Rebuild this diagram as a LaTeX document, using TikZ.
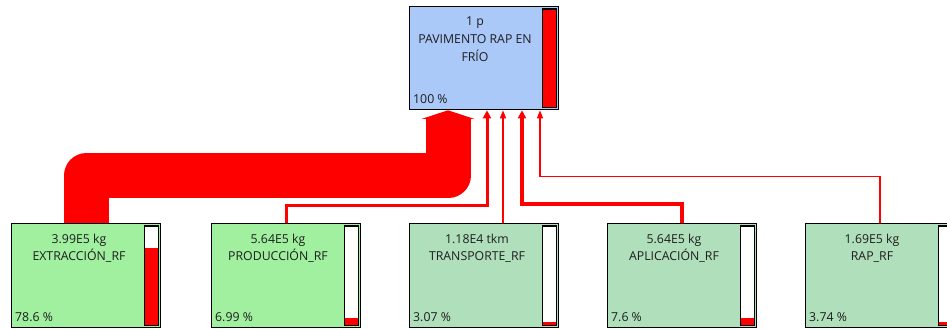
\documentclass[tikz,border=0pt]{standalone}
\usepackage{fontspec}
\setmainfont{Open Sans}
\usetikzlibrary{arrows.meta,calc}
\definecolor{topblue}{RGB}{170,200,248}
\definecolor{greenA}{RGB}{160,240,160}
\definecolor{greenB}{RGB}{176,223,188}
\definecolor{flowred}{RGB}{255,0,0}
\definecolor{txt}{RGB}{30,30,30}
\pgfdeclarelayer{bg}
\pgfdeclarelayer{flows}
\pgfsetlayers{bg,flows,main}
\tikzset{
  procbox/.style={draw=black, line width=1.3pt, minimum width=149pt, minimum height=104pt, inner sep=0pt, anchor=north west},
  lbl/.style={font=\fontsize{12.3}{15}\selectfont, text=txt, inner sep=0pt, anchor=base},
  pct/.style={lbl, anchor=base west},
  barframe/.style={draw=black, line width=1.2pt},
  flow/.style={draw=flowred},
  thinhead/.style={-{Triangle[length=8pt,width=6pt]}},
  midhead/.style={-{Triangle[length=8pt,width=8pt]}}
}
\newcommand\levelbar[3]{%
  \fill[white] ($(#1.north east)+(-17,3)$) rectangle ($(#1.south east)+(-3,-3)$);
  \fill[flowred] ($(#1.south east)+(-17,-3)$) rectangle ($(#1.south east)+(-3,{-3-#3*#2})$);
  \draw[barframe] ($(#1.north east)+(-17,3)$) rectangle ($(#1.south east)+(-3,-3)$);
}
\begin{document}
\begin{tikzpicture}[x=1pt,y=-1pt]
\useasboundingbox (0,0) rectangle (947,329);
\begin{pgfonlayer}{bg}
\fill[white] (0,0) rectangle (947,329);
\end{pgfonlayer}

% nodes
\node[procbox, fill=topblue, minimum height=103pt] (top) at (409,6) {};
\node[procbox, fill=greenA] (ext) at (11,223) {};
\node[procbox, fill=greenA] (prod) at (211,223) {};
\node[procbox, fill=greenB] (trans) at (409,223) {};
\node[procbox, fill=greenB] (apl) at (607,223) {};
\node[procbox, fill=greenB] (rap) at (805,223) {};

% bars
\levelbar{top}{1.0}{97}
\levelbar{ext}{0.786}{98}
\levelbar{prod}{0.0699}{98}
\levelbar{trans}{0.0307}{98}
\levelbar{apl}{0.076}{98}
\levelbar{rap}{0.0374}{98}

% texts
\node[lbl] (top-q) at ($(top.north west)+(66,20)$) {1 p};
\node[lbl] (top-n1) at ($(top.north west)+(66,37.5)$) {PAVIMENTO RAP EN};
\node[lbl] (top-n2) at ($(top.north west)+(66,55)$) {FRÍO};
\node[pct] (top-p) at ($(top.south west)+(4,-7)$) {100 \%};

\node[lbl] (ext-q) at ($(ext.north west)+(68,20)$) {3.99E5 kg};
\node[lbl] (ext-n) at ($(ext.north west)+(68,37)$) {EXTRACCIÓN\_RF};
\node[pct] (ext-p) at ($(ext.south west)+(4,-7)$) {78.6 \%};

\node[lbl] (prod-q) at ($(prod.north west)+(67,20)$) {5.64E5 kg};
\node[lbl] (prod-n) at ($(prod.north west)+(67,37)$) {PRODUCCIÓN\_RF};
\node[pct] (prod-p) at ($(prod.south west)+(4,-7)$) {6.99 \%};

\node[lbl] (trans-q) at ($(trans.north west)+(68,20)$) {1.18E4 tkm};
\node[lbl] (trans-n) at ($(trans.north west)+(68,37)$) {TRANSPORTE\_RF};
\node[pct] (trans-p) at ($(trans.south west)+(4,-7)$) {3.07 \%};

\node[lbl] (apl-q) at ($(apl.north west)+(67,20)$) {5.64E5 kg};
\node[lbl] (apl-n) at ($(apl.north west)+(67,37)$) {APLICACIÓN\_RF};
\node[pct] (apl-p) at ($(apl.south west)+(4,-7)$) {7.6 \%};

\node[lbl] (rap-q) at ($(rap.north west)+(67,20)$) {1.69E5 kg};
\node[lbl] (rap-n) at ($(rap.north west)+(67,37)$) {RAP\_RF};
\node[pct] (rap-p) at ($(rap.south west)+(4,-7)$) {3.74 \%};

% entry points on the top node
\coordinate (inE) at ($(top.south west)+(39,0)$);
\coordinate (inP) at ($(top.south west)+(78,0)$);
\coordinate (inT) at ($(top.south west)+(94,0)$);
\coordinate (inA) at ($(top.south west)+(113,0)$);
\coordinate (inR) at ($(top.south west)+(131,0)$);
\coordinate (inEbase) at ($(inE)+(0,8)$);

\begin{pgfonlayer}{flows}
% thick flow
\draw[flow, line width=45pt, line join=round] (ext.north) |- ($(inE)+(0,65.5)$) -- (inEbase);
\fill[flowred] ($(inEbase)+(-26,0.5)$) -- (inE) -- ($(inEbase)+(26,0.5)$) -- cycle;
% thin flows
\draw[flow, line width=3pt, midhead] (prod.north) |- ($(inP)+(0,95)$) -- (inP);
\draw[flow, line width=1.5pt, thinhead] (inT |- trans.north) -- (inT);
\draw[flow, line width=4pt, midhead] (apl.north) |- ($(inA)+(0,94)$) -- (inA);
\draw[flow, line width=1.5pt, thinhead] (rap.north) |- ($(inR)+(0,66)$) -- (inR);
\end{pgfonlayer}
\end{tikzpicture}
\end{document}
